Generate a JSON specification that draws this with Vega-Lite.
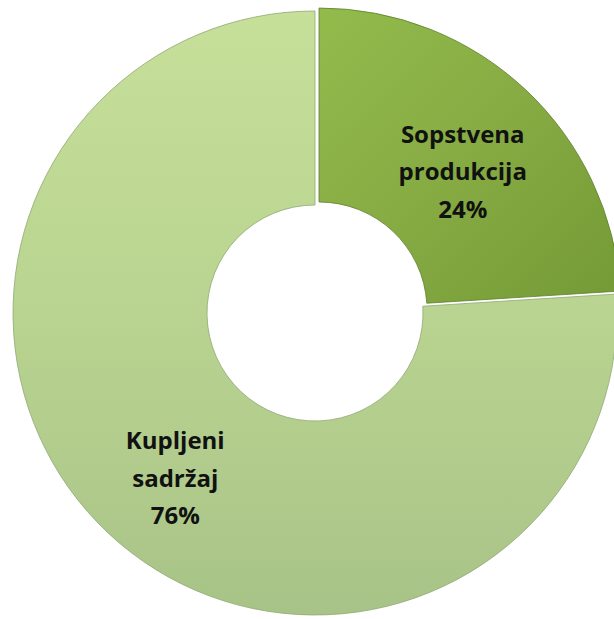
{
  "$schema": "https://vega.github.io/schema/vega-lite/v6.json",
  "width": 630,
  "height": 626,
  "padding": 0,
  "autosize": "none",
  "background": "white",
  "view": {"stroke": null},
  "data": {
    "values": [
      {"category": "Sopstvena produkcija", "value": 24, "order": 1, "label": "Sopstvena\nprodukcija\n24%"},
      {"category": "Kupljeni sadržaj", "value": 76, "order": 2, "label": "Kupljeni\nsadržaj\n76%"}
    ]
  },
  "layer": [
    {
      "transform": [
        {"stack": "value", "groupby": [], "sort": [{"field": "order"}], "as": ["v0", "v1"]},
        {"filter": "datum.order == 2"}
      ],
      "mark": {
        "type": "arc",
        "radius": 302,
        "radius2": 108,
        "stroke": "#8fa874",
        "strokeWidth": 0.8,
        "color": {
          "gradient": "linear",
          "x1": 0, "y1": 0, "x2": 0, "y2": 1,
          "stops": [
            {"offset": 0, "color": "#c6e09a"},
            {"offset": 0.5, "color": "#b9d490"},
            {"offset": 1, "color": "#a8c387"}
          ]
        }
      },
      "encoding": {
        "theta": {"field": "v0", "type": "quantitative", "scale": {"domain": [0, 100]}},
        "theta2": {"field": "v1"}
      }
    },
    {
      "transform": [
        {"stack": "value", "groupby": [], "sort": [{"field": "order"}], "as": ["v0", "v1"]},
        {"filter": "datum.order == 1"}
      ],
      "mark": {
        "type": "arc",
        "radius": 302,
        "radius2": 108,
        "xOffset": 4,
        "yOffset": -3,
        "stroke": "#5e7f2c",
        "strokeWidth": 0.8,
        "color": {
          "gradient": "linear",
          "x1": 0, "y1": 0, "x2": 1, "y2": 1,
          "stops": [
            {"offset": 0, "color": "#92bb4c"},
            {"offset": 0.5, "color": "#86ab43"},
            {"offset": 1, "color": "#749a36"}
          ]
        }
      },
      "encoding": {
        "theta": {"field": "v0", "type": "quantitative", "scale": {"domain": [0, 100]}},
        "theta2": {"field": "v1"}
      }
    },
    {
      "mark": {
        "type": "text",
        "radius": 210,
        "font": "Open Sans",
        "fontWeight": "bold",
        "fontSize": 24,
        "lineHeight": 37.5,
        "lineBreak": "\n",
        "align": "center",
        "baseline": "middle",
        "dx": 4,
        "dy": -24,
        "color": "#111111"
      },
      "encoding": {
        "theta": {"field": "value", "type": "quantitative", "stack": true, "scale": {"domain": [0, 100]}},
        "order": {"field": "order", "type": "quantitative"},
        "text": {"field": "label"}
      }
    }
  ]
}
